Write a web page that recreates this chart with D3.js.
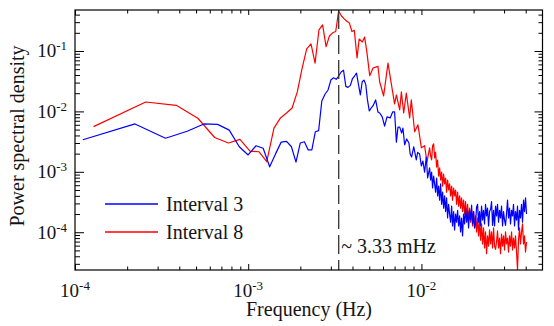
<!DOCTYPE html>
<html><head><meta charset="utf-8">
<script src="https://cdn.jsdelivr.net/npm/d3@7"></script>
<style>
body{margin:0;background:#fff}
svg{display:block}
text{font-family:"Liberation Serif","Times New Roman",serif;fill:#141414}
</style>
</head><body><svg id="c" width="554" height="326"></svg>
<script>
// ---------------- data (frequency in mHz, PSD) ----------------
const hfFreqMHz = [11.30,11.45,11.60,11.76,11.92,12.07,12.24,12.40,12.57,12.74,
 12.91,13.08,13.25,13.43,13.61,13.79,13.97,14.16,14.35,14.54,
 14.74,14.94,15.13,15.34,15.54,15.75,15.96,16.18,16.39,16.61,
 16.83,17.05,17.28,17.51,17.75,17.98,18.23,18.47,18.72,18.97,
 19.22,19.48,19.74,20.00,20.27,20.54,20.81,21.09,21.37,21.66,
 21.95,22.24,22.54,22.84,23.14,23.45,23.77,24.08,24.41,24.74,
 25.07,25.40,25.74,26.09,26.43,26.79,27.14,27.50,27.87,28.25,
 28.62,29.01,29.40,29.79,30.19,30.59,30.99,31.41,31.83,32.26,
 32.69,33.13,33.57,34.01,34.47,34.93,35.40,35.87,36.35,36.84,
 37.33,37.84,38.34,38.86,39.37,39.90,40.43];

const blueFreqLowMHz = [0.111,0.222,0.333,0.444,0.555,0.666,0.777,0.888,0.999,1.11,
 1.22,1.33,1.44,1.55,1.665,1.776,1.887,1.998,2.11,2.22,
 2.33,2.44,2.55,2.66,2.78,2.89,3.00,3.11,3.22,3.33,
 3.44,3.55,3.66,3.77,3.89,4.00,4.11,4.22,4.33,4.44,
 4.55,4.66,4.77,4.88,5.00,
 5.13,5.25,5.44,5.61,5.74,5.94,6.13,6.33,6.60,6.82,
 7.00,7.17,7.32,7.49,7.69,7.82,8.00,8.22,8.47,8.61,
 8.78,9.03,9.34,9.51,9.76,9.99,10.20,10.43,10.67,10.86,11.15];
const bluePSDLow = [3.4e-3,6.2e-3,3.6e-3,4.7e-3,6.2e-3,6.1e-3,4.9e-3,2.6e-3,1.9e-3,2.7e-3,
 2.45e-3,1.21e-3,2.0e-3,3.1e-3,3.2e-3,2.6e-3,1.45e-3,3.0e-3,3.15e-3,2.3e-3,
 2.3e-3,4.6e-3,4.8e-3,1.49e-2,1.94e-2,2.26e-2,3.3e-2,3.6e-2,3.4e-2,3.85e-2,
 4.5e-2,4.8e-2,2.6e-2,2.5e-2,2.7e-2,3.5e-2,3.85e-2,4.3e-2,2.8e-2,1.87e-2,
 3.1e-2,3.3e-2,2.8e-2,1.55e-2,1.02e-2,
 1.14e-2,1.23e-2,1.55e-2,9.8e-3,9.4e-3,8.1e-3,5.7e-3,8.1e-3,7.8e-3,9.8e-3,
 9.8e-3,3.1e-3,5.5e-3,5.5e-3,4.4e-3,5.3e-3,2.8e-3,3.5e-3,3.0e-3,1.97e-3,
 1.76e-3,2.6e-3,1.57e-3,2.1e-3,1.97e-3,1.25e-3,1.51e-3,9.9e-4,1.76e-3,7.9e-4,1.16e-3];
const bluePSDHigh = [7.3e-4,9.9e-4,5.4e-4,8.5e-4,6.3e-4,4.6e-4,7.9e-4,4.0e-4,5.8e-4,3.4e-4,
 6.3e-4,2.9e-4,4.6e-4,2.5e-4,4.0e-4,2.2e-4,3.7e-4,1.72e-4,2.9e-4,2.0e-4,
 1.47e-4,2.7e-4,1.27e-4,2.2e-4,1.09e-4,2.0e-4,1.47e-4,2.3e-4,1.27e-4,1.86e-4,
 1.01e-4,1.72e-4,8.7e-5,2.0e-4,1.37e-4,2.5e-4,1.47e-4,2.2e-4,1.18e-4,2.3e-4,
 1.59e-4,2.8e-4,1.37e-4,2.2e-4,1.18e-4,1.4e-4,2.6e-4,2.9e-4,1.47e-4,2.2e-4,
 1.27e-4,2.7e-4,1.59e-4,2.3e-4,1.37e-4,2.9e-4,1.86e-4,2.5e-4,1.27e-4,2.2e-4,
 2.4e-4,3.2e-4,1.3e-4,2.3e-4,1.27e-4,2.7e-4,1.86e-4,2.9e-4,1.47e-4,2.3e-4,
 1.72e-4,2.7e-4,1.27e-4,2.2e-4,1.59e-4,1.3e-4,2.0e-4,3.4e-4,1.72e-4,2.5e-4,
 1.37e-4,2.3e-4,1.86e-4,2.9e-4,1.27e-4,2.2e-4,1.59e-4,2.7e-4,1.09e-4,2.3e-4,
 1.72e-4,2.9e-4,1.47e-4,3.4e-4,2.2e-4,3.7e-4,2.0e-4];

const redFreqLowMHz = [0.128,0.256,0.384,0.512,0.640,0.768,0.896,1.024,1.152,1.28,
 1.408,1.536,1.664,1.792,1.92,2.048,2.176,2.304,2.432,2.56,
 2.688,2.816,2.944,3.072,3.20,3.328,3.456,3.584,3.712,3.84,
 3.968,4.096,
 4.25,4.37,4.56,4.70,4.85,5.03,5.25,5.61,5.74,6.05,
 6.41,6.71,7.00,7.17,7.49,7.66,7.90,8.18,8.55,8.74,
 9.14,9.55,9.99,10.43,10.76,11.15];
const redPSDLow = [5.6e-3,1.43e-2,1.26e-2,7.7e-3,3.7e-3,3.0e-3,3.45e-3,2.2e-3,2.15e-3,1.48e-3,
 5.3e-3,7.8e-3,9.4e-3,1.14e-2,2.1e-2,5.2e-2,0.108,0.131,0.063,0.223,
 0.27,0.118,0.177,0.20,0.21,0.46,0.38,0.34,0.31,0.29,
 0.21,0.22,
 0.077,0.158,0.141,0.17,0.092,0.039,0.052,0.056,0.031,0.018,
 0.063,0.028,0.0133,0.0187,0.0106,0.021,0.0094,0.020,0.0078,0.0155,
 0.0046,0.006,0.0025,0.0027,0.00145,0.0025];
const redPSDHigh = [1.83e-3,1.57e-3,2.7e-3,2.9e-3,1.70e-3,2.1e-3,1.20e-3,1.57e-3,8.5e-4,1.16e-3,
 7.3e-4,9.9e-4,5.8e-4,9.2e-4,6.3e-4,7.9e-4,4.6e-4,7.3e-4,5.0e-4,6.3e-4,
 4.0e-4,5.8e-4,3.4e-4,5.4e-4,4.0e-4,5.0e-4,2.9e-4,4.6e-4,2.7e-4,4.0e-4,
 2.5e-4,3.7e-4,2.2e-4,3.4e-4,2.0e-4,3.2e-4,1.72e-4,2.9e-4,1.59e-4,2.5e-4,
 1.47e-4,2.3e-4,1.27e-4,2.2e-4,1.18e-4,1.86e-4,1.01e-4,1.72e-4,8.7e-5,1.59e-4,
 7.4e-5,1.37e-4,6.4e-5,1.18e-4,5.5e-5,1.01e-4,4.4e-5,8.7e-5,5.9e-5,1.09e-4,
 6.4e-5,1.01e-4,5.5e-5,1.18e-4,5.9e-5,5.2e-5,7.0e-5,1.05e-4,5.5e-5,8.0e-5,
 4.4e-5,9.3e-5,5.9e-5,8.7e-5,5.1e-5,1.01e-4,6.4e-5,8.0e-5,4.7e-5,8.7e-5,
 5.9e-5,1.01e-4,5.1e-5,8.0e-5,5.5e-5,8.7e-5,4.7e-5,2.4e-5,7.4e-5,1.18e-4,
 6.4e-5,1.01e-4,1.37e-4,6.4e-5,8.7e-5,4.7e-5,6.9e-5];

const seriesNames = ["Interval 3","Interval 8"];
const seriesColors = ["#0000ff","#ff0000"];
const xMajorTicks = [1e-4,1e-3,1e-2];
const xTickExponents = ["-4","-3","-2"];
const yMajorTicks = [1e-4,1e-3,1e-2,1e-1];
const yTickExponents = ["-4","-3","-2","-1"];
const markerFreqHz = 3.33e-3;
const markerLabel = "~ 3.33 mHz";
const xTitle = "Frequency (Hz)";
const yTitle = "Power spectral density";

// ---------------- chart ----------------
const W = 554, H = 326;
const m = {l:75, r:11.5, t:10, b:56};
const x = d3.scaleLog().domain([1e-4, 5e-2]).range([m.l, W - m.r]);
const y = d3.scaleLog().domain([2.37e-5, 0.477]).range([H - m.b, m.t]);
const svg = d3.select("#c");

const toPts = (f, p) => f.map((v, i) => [v * 1e-3, p[i]]);
const blue = toPts(blueFreqLowMHz.concat(hfFreqMHz), bluePSDLow.concat(bluePSDHigh));
const red = toPts(redFreqLowMHz.concat(hfFreqMHz), redPSDLow.concat(redPSDHigh));

svg.append("clipPath").attr("id","clip").append("rect")
  .attr("x", m.l).attr("y", m.t).attr("width", W - m.l - m.r).attr("height", H - m.t - m.b);

const line = d3.line().x(d => x(d[0])).y(d => y(d[1]));
const plot = svg.append("g").attr("clip-path","url(#clip)");
plot.append("path").datum(red).attr("d", line).attr("fill","none")
  .attr("stroke", seriesColors[1]).attr("stroke-width", 1.2).attr("stroke-linejoin","round");
plot.append("path").datum(blue).attr("d", line).attr("fill","none")
  .attr("stroke", seriesColors[0]).attr("stroke-width", 1.2).attr("stroke-linejoin","round");

// dashed marker
svg.append("line").attr("x1", x(markerFreqHz)).attr("x2", x(markerFreqHz))
  .attr("y1", m.t).attr("y2", H - m.b).attr("stroke","#333").attr("stroke-width",1.3)
  .attr("stroke-dasharray","19,6");
svg.append("text").attr("x", x(markerFreqHz) + 2.5).attr("y", 253)
  .attr("font-size", 20).text(markerLabel);

// minor tick positions
function minors(scale){
  const [a,b] = scale.domain(); const out = [];
  for (let k = Math.floor(Math.log10(a)); k <= Math.ceil(Math.log10(b)); k++)
    for (let j = 2; j <= 9; j++){ const v = j * Math.pow(10,k); if (v > a*1.001 && v < b*0.999) out.push(v); }
  return out;
}
const xMin = minors(x), yMin = minors(y);

function axisG(gen, tx, ty){
  const g = svg.append("g").attr("transform",`translate(${tx},${ty})`).call(gen);
  g.select(".domain").remove();
  g.selectAll("line").attr("stroke","#000").attr("stroke-width",1);
  return g;
}
const bottom = H - m.b, right = W - m.r;
axisG(d3.axisBottom(x).tickValues(xMajorTicks).tickSize(-6).tickFormat(""), 0, bottom);
axisG(d3.axisBottom(x).tickValues(xMin).tickSize(-3.5).tickFormat(""), 0, bottom);
axisG(d3.axisTop(x).tickValues(xMajorTicks).tickSize(-5).tickFormat(""), 0, m.t);
axisG(d3.axisTop(x).tickValues(xMin).tickSize(-3.5).tickFormat(""), 0, m.t);
axisG(d3.axisLeft(y).tickValues(yMajorTicks).tickSize(-9).tickFormat(""), m.l, 0);
axisG(d3.axisLeft(y).tickValues(yMin).tickSize(-5).tickFormat(""), m.l, 0);
axisG(d3.axisRight(y).tickValues(yMajorTicks).tickSize(-8).tickFormat(""), right, 0);
axisG(d3.axisRight(y).tickValues(yMin).tickSize(-4).tickFormat(""), right, 0);

svg.append("rect").attr("x", m.l).attr("y", m.t).attr("width", right - m.l).attr("height", bottom - m.t)
  .attr("fill","none").attr("stroke","#000").attr("stroke-width",1.2);

// tick labels with superscripts
xMajorTicks.forEach((v,i) => {
  const t = svg.append("text").attr("x", x(v)).attr("y", 296.5).attr("text-anchor","middle").attr("font-size",19);
  t.append("tspan").text("10");
  t.append("tspan").attr("font-size",13).attr("dy",-7).text(xTickExponents[i]);
});
yMajorTicks.forEach((v,i) => {
  const t = svg.append("text").attr("x", 67).attr("y", y(v) + 6.5).attr("text-anchor","end").attr("font-size",19);
  t.append("tspan").text("10");
  t.append("tspan").attr("font-size",13).attr("dy",-7).text(yTickExponents[i]);
});

// titles
svg.append("text").attr("x", 309).attr("y", 316).attr("text-anchor","middle").attr("font-size",20).text(xTitle);
svg.append("text").attr("transform","translate(24,136) rotate(-90)").attr("text-anchor","middle")
  .attr("font-size",20).text(yTitle);

// legend
seriesNames.forEach((name,i) => {
  const yy = 204 + i * 28;
  svg.append("line").attr("x1",105).attr("x2",158).attr("y1",yy).attr("y2",yy)
    .attr("stroke", seriesColors[i]).attr("stroke-width",1.3);
  svg.append("text").attr("x",166).attr("y",yy + 6.5).attr("font-size",20).text(name);
});
</script></body></html>
